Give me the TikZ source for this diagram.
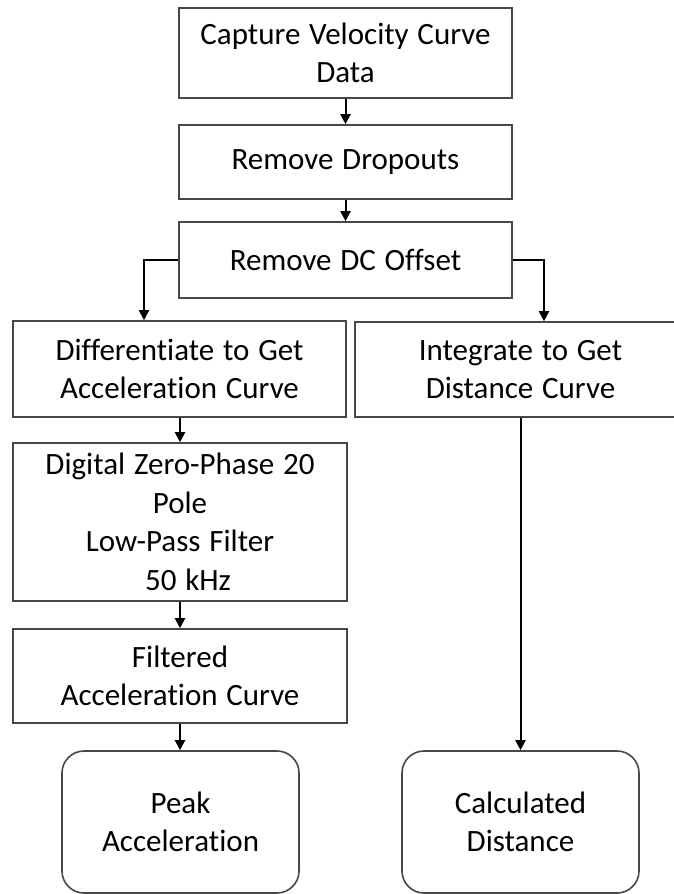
\documentclass[tikz,border=0pt]{standalone}
\usepackage{fontspec}
\setmainfont{Carlito}[Ligatures=NoCommon, WordSpace={1.25}]
\usetikzlibrary{arrows.meta}
\begin{document}
\begin{tikzpicture}[x=1pt,y=1pt,
  every node/.style={font=\fontsize{31}{38.5}\selectfont, align=center, inner sep=0pt, text=black},
  box/.style={draw=black!72, line width=1.6pt, fill=white},
  rbox/.style={box, rounded corners=22pt},
  arr/.style={draw=black, line width=2pt, -{Triangle[length=10pt,width=10pt]}}]
\useasboundingbox (0,0) rectangle (674,-894);
\clip (0,0) rectangle (674,-894);
\fill[white] (0,0) rectangle (674,-894);
\node[box, minimum width=333pt, minimum height=90pt] (b1) at (345.5,-53) {Capture Velocity Curve\\Data};
\node[box, minimum width=333pt, minimum height=74pt] (b2) at (345.5,-162) {Remove Dropouts};
\node[box, minimum width=333pt, minimum height=76pt] (b3) at (345.5,-260) {Remove DC Offset};
\node[box, minimum width=333pt, minimum height=96pt] (b4) at (179.5,-369) {Differentiate to Get\\Acceleration Curve};
\node[box, minimum width=331pt, minimum height=95pt] (b5) at (520.5,-369.5) {Integrate to Get\\Distance Curve};
\node[box, minimum width=334pt, minimum height=158pt] (b6) at (180,-522) {Digital Zero-Phase 20\\Pole\\Low-Pass Filter\\\hspace*{16pt}50 kHz};
\node[box, minimum width=334pt, minimum height=94pt] (b7) at (180,-676) {Filtered\\Acceleration Curve};
\node[rbox, minimum width=237pt, minimum height=142pt] (pk) at (180.5,-822) {Peak\\Acceleration};
\node[rbox, minimum width=237pt, minimum height=142pt] (cd) at (520.5,-822) {Calculated\\Distance};
\draw[arr] (b1) -- (b2);
\draw[arr] (b2) -- (b3);
\draw[arr] (b3.west) -| ([xshift=-35.5pt]b4.north);
\draw[arr] (b3.east) -| ([xshift=23.5pt]b5.north);
\draw[arr] (b4.south -| b6.north) -- (b6.north);
\draw[arr] (b6) -- (b7);
\draw[arr] (b7.south) -- (b7.south |- pk.north);
\draw[arr] (b5) -- (cd);
\end{tikzpicture}
\end{document}
